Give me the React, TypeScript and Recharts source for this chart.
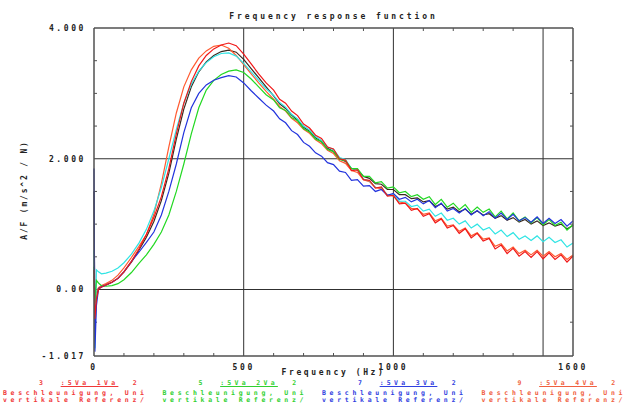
import { LineChart, Line, XAxis, YAxis, ReferenceLine } from 'recharts'

// frequency points (Hz)
const FREQ = [
  0, 3, 8, 15, 25, 40, 60, 80, 100, 125, 150, 175, 200, 225, 250, 275, 300, 325, 350, 375,
  400, 425, 450, 475, 500, 525, 550, 575, 600, 620, 640, 660, 680, 700, 720, 740, 760, 780,
  800, 820, 840, 860, 880, 900, 920, 940, 960, 980, 1000, 1020, 1040, 1060, 1080, 1100, 1120,
  1140, 1160, 1180, 1200, 1220, 1240, 1260, 1280, 1300, 1320, 1340, 1360, 1380, 1400, 1420,
  1440, 1460, 1480, 1500, 1520, 1540, 1560, 1580, 1600,
]

const RED = [
  0.3, -0.45, -0.15, 0.0, 0.04, 0.07, 0.11, 0.17, 0.27, 0.43, 0.62, 0.84, 1.1, 1.42, 1.85, 2.38,
  2.85, 3.18, 3.42, 3.58, 3.68, 3.74, 3.77, 3.73, 3.6, 3.45, 3.3, 3.16,
  3.05, 2.91, 2.85, 2.73, 2.66, 2.53, 2.47, 2.36, 2.31, 2.18, 2.15, 2.0, 1.98, 1.82, 1.83, 1.68,
  1.67, 1.55, 1.57, 1.43, 1.44, 1.31, 1.32, 1.21, 1.24, 1.12, 1.16, 1.02, 1.08, 0.94, 0.98, 0.86,
  0.93, 0.79, 0.86, 0.74, 0.78, 0.62, 0.68, 0.55, 0.63, 0.51, 0.58, 0.49, 0.58, 0.47, 0.56, 0.46,
  0.53, 0.42, 0.51,
]

const ORANGE = [
  0.2, -0.3, -0.05, 0.03, 0.06, 0.09, 0.14, 0.22, 0.33, 0.49, 0.66, 0.84, 1.15, 1.62, 2.18, 2.7,
  3.1, 3.36, 3.54, 3.65, 3.72, 3.74, 3.69, 3.58, 3.44, 3.3, 3.16, 3.03,
  2.91, 2.8, 2.73, 2.62, 2.55, 2.45, 2.39, 2.29, 2.23, 2.13, 2.08, 1.97, 1.93, 1.82, 1.79, 1.68,
  1.65, 1.56, 1.54, 1.45, 1.43, 1.34, 1.32, 1.24, 1.23, 1.15, 1.17, 1.05, 1.09, 0.97, 0.99, 0.89,
  0.94, 0.82, 0.87, 0.77, 0.79, 0.66, 0.7, 0.59, 0.65, 0.55, 0.6, 0.53, 0.6, 0.51, 0.58, 0.5,
  0.55, 0.46, 0.53,
]

const CYAN = [
  0.6, -0.9, 0.3, 0.27, 0.24, 0.25, 0.28, 0.33, 0.41, 0.54, 0.71, 0.92, 1.2, 1.56, 2.0, 2.45,
  2.85, 3.14, 3.34, 3.47, 3.56, 3.61, 3.62, 3.57, 3.46, 3.33, 3.2, 3.07,
  2.97, 2.86, 2.79, 2.68, 2.61, 2.5, 2.44, 2.34, 2.28, 2.18, 2.14, 2.02, 1.99, 1.85, 1.83, 1.69,
  1.66, 1.56, 1.56, 1.44, 1.45, 1.35, 1.35, 1.27, 1.29, 1.2, 1.23, 1.12, 1.17, 1.06, 1.09, 1.0,
  1.05, 0.94, 1.0, 0.91, 0.95, 0.85, 0.91, 0.81, 0.87, 0.77, 0.82, 0.75, 0.82, 0.73, 0.8, 0.72,
  0.76, 0.65, 0.71,
]

const GREEN = [
  0.35, -0.2, 0.14, 0.1, 0.06, 0.05, 0.06, 0.09, 0.15, 0.26, 0.4, 0.53, 0.69, 0.88, 1.14, 1.5,
  1.92, 2.38, 2.78, 3.05, 3.2, 3.29, 3.34, 3.36, 3.32, 3.22, 3.1, 2.98,
  2.9, 2.78, 2.74, 2.63, 2.58, 2.46, 2.41, 2.3, 2.26, 2.14, 2.11, 1.99, 1.97, 1.85, 1.85, 1.73,
  1.73, 1.63, 1.65, 1.55, 1.57, 1.48, 1.5, 1.42, 1.45, 1.38, 1.42, 1.3, 1.38, 1.26, 1.32, 1.22,
  1.3, 1.18, 1.26, 1.18, 1.23, 1.11, 1.2, 1.08, 1.17, 1.05, 1.11, 1.02, 1.1, 0.99, 1.07, 0.98,
  1.03, 0.91, 0.99,
]

const BLUE = [
  1.85, -0.95, -0.25, 0.01, 0.04, 0.07, 0.11, 0.17, 0.27, 0.43, 0.57, 0.72, 0.88, 1.14, 1.5, 1.92,
  2.4, 2.78, 3.0, 3.13, 3.2, 3.24, 3.27, 3.25, 3.16, 3.04, 2.93, 2.82,
  2.73, 2.61, 2.55, 2.43, 2.37, 2.25, 2.19, 2.09, 2.04, 1.94, 1.91, 1.81, 1.79, 1.67, 1.68, 1.58,
  1.59, 1.5, 1.53, 1.44, 1.47, 1.38, 1.41, 1.34, 1.38, 1.31, 1.36, 1.25, 1.32, 1.2, 1.24, 1.17,
  1.24, 1.14, 1.21, 1.13, 1.19, 1.09, 1.17, 1.07, 1.15, 1.05, 1.1, 1.03, 1.11, 1.01, 1.09, 1.01,
  1.07, 0.97, 1.05,
]

const DARK = [
  1.5, -0.6, -0.1, 0.02, 0.04, 0.07, 0.11, 0.17, 0.27, 0.42, 0.6, 0.8, 1.04, 1.36, 1.78, 2.3,
  2.76, 3.1, 3.33, 3.48, 3.58, 3.64, 3.66, 3.63, 3.52, 3.38, 3.24, 3.1,
  2.96, 2.84, 2.77, 2.67, 2.59, 2.48, 2.42, 2.32, 2.26, 2.16, 2.11, 2.0, 1.96, 1.85, 1.83, 1.73,
  1.7, 1.62, 1.61, 1.53, 1.53, 1.45, 1.45, 1.39, 1.4, 1.34, 1.36, 1.27, 1.31, 1.23, 1.26, 1.19,
  1.23, 1.15, 1.2, 1.14, 1.16, 1.09, 1.13, 1.06, 1.1, 1.03, 1.07, 1.0, 1.05, 0.98, 1.02, 0.97,
  1.0, 0.93, 0.98,
]

const X_TICKS = [0, 500, 1000, 1600]
const Y_TICKS = [-1.017, 0, 2, 4]
const X_GRID = [500, 1000, 1500]
const Y_GRID = [0, 2]
const X_MINOR = [100, 200, 300, 400, 600, 700, 800, 900, 1100, 1200, 1300, 1400]
const Y_MINOR = [-0.5, 0.5, 1, 1.5, 2.5, 3, 3.5]

const LEGEND_NUM = ['3', '5', '7', '9']
const LEGEND_MID = [':5Va 1Va', ':5Va 2Va', ':5Va 3Va', ':5Va 4Va']
const LEGEND_COLORS = ['#f03838', '#30d030', '#3040e0', '#f06040']

const X_MIN = 0
const X_MAX = 1600
const Y_MIN = -1.017
const Y_MAX = 4

const rows = FREQ.map((f, i) => ({
  f,
  red: RED[i],
  orange: ORANGE[i],
  cyan: CYAN[i],
  green: GREEN[i],
  blue: BLUE[i],
  dark: DARK[i],
}))

const W = 631
const H = 409
const PLOT_W = 479
const PLOT_H = 328
const TICK_PX = 3
const tx = (TICK_PX * (X_MAX - X_MIN)) / PLOT_W
const ty = (TICK_PX * (Y_MAX - Y_MIN)) / PLOT_H

const mono = '"DejaVu Sans Mono", monospace'
const frame = '#505050'

const yFmt = (v: number) => (v === 4 ? '4.000' : v === 2 ? '2.000' : v === 0 ? '0.00' : v.toFixed(3))

export default function App() {
  return (
    <div
      style={{
        position: 'absolute',
        left: 0,
        top: 0,
        width: W,
        height: H,
        background: '#fff',
        overflow: 'hidden',
        fontFamily: mono,
      }}
    >
      <div
        style={{
          position: 'absolute',
          left: 94,
          width: PLOT_W,
          top: 12,
          textAlign: 'center',
          fontSize: 8,
          fontWeight: 700,
          letterSpacing: 2.9,
          color: '#222',
        }}
      >
        Frequency response function
      </div>

      <LineChart width={W} height={H} data={rows} margin={{ top: 28, right: 58, bottom: 33, left: 0 }}>
        <XAxis
          dataKey="f"
          type="number"
          domain={[X_MIN, X_MAX]}
          ticks={X_TICKS}
          interval={0}
          height={20}
          axisLine={false}
          tickLine={false}
          tick={{ fontSize: 8, fontWeight: 700, fill: '#222', letterSpacing: 2.6, fontFamily: mono }}
        />
        <YAxis
          type="number"
          domain={[Y_MIN, Y_MAX]}
          ticks={Y_TICKS}
          interval={0}
          width={94}
          axisLine={false}
          tickLine={false}
          tickFormatter={yFmt}
          tick={{ fontSize: 8, fontWeight: 700, fill: '#222', letterSpacing: 2.6, fontFamily: mono }}
        />

        {X_GRID.map((x) => (
          <ReferenceLine key={`gx${x}`} x={x} stroke="#303030" strokeWidth={1} />
        ))}
        {Y_GRID.map((y) => (
          <ReferenceLine key={`gy${y}`} y={y} stroke="#303030" strokeWidth={1} />
        ))}

        {X_MINOR.map((x) => (
          <ReferenceLine key={`tt${x}`} segment={[{ x, y: Y_MAX }, { x, y: Y_MAX - ty }]} stroke={frame} />
        ))}
        {X_MINOR.map((x) => (
          <ReferenceLine key={`tb${x}`} segment={[{ x, y: Y_MIN }, { x, y: Y_MIN + ty }]} stroke={frame} />
        ))}
        {Y_MINOR.map((y) => (
          <ReferenceLine key={`tl${y}`} segment={[{ x: X_MIN, y }, { x: X_MIN + tx, y }]} stroke={frame} />
        ))}
        {Y_MINOR.map((y) => (
          <ReferenceLine key={`tr${y}`} segment={[{ x: X_MAX, y }, { x: X_MAX - tx, y }]} stroke={frame} />
        ))}

        <Line dataKey="dark" stroke="#3a2a20" strokeWidth={1.2} dot={false} type="linear" isAnimationActive={false} />
        <Line dataKey="orange" stroke="#ff5a30" strokeWidth={1.2} dot={false} type="linear" isAnimationActive={false} />
        <Line dataKey="cyan" stroke="#30e4e4" strokeWidth={1.2} dot={false} type="linear" isAnimationActive={false} />
        <Line dataKey="green" stroke="#22d822" strokeWidth={1.2} dot={false} type="linear" isAnimationActive={false} />
        <Line dataKey="blue" stroke="#2233dd" strokeWidth={1.2} dot={false} type="linear" isAnimationActive={false} />
        <Line dataKey="red" stroke="#f01818" strokeWidth={1.2} dot={false} type="linear" isAnimationActive={false} />

        <ReferenceLine x={X_MIN} stroke={frame} strokeWidth={1.5} />
        <ReferenceLine x={X_MAX} stroke={frame} strokeWidth={1.5} />
        <ReferenceLine y={Y_MIN} stroke={frame} strokeWidth={1.5} />
        <ReferenceLine y={Y_MAX} stroke={frame} strokeWidth={1.5} />
      </LineChart>

      <div style={{ position: 'absolute', left: 24, top: 190, width: 0, height: 0 }}>
        <div
          style={{
            position: 'absolute',
            left: 0,
            top: 0,
            transform: 'translate(-50%, -50%) rotate(-90deg)',
            whiteSpace: 'nowrap',
            fontSize: 8,
            fontWeight: 700,
            letterSpacing: 1.8,
            color: '#222',
          }}
        >
          A/F (m/s^2 / N)
        </div>
      </div>

      <div
        style={{
          position: 'absolute',
          left: 94,
          width: PLOT_W,
          top: 368,
          textAlign: 'center',
          fontSize: 8,
          lineHeight: '10px',
          fontWeight: 700,
          letterSpacing: 2.6,
          color: '#222',
        }}
      >
        Frequency (Hz)
      </div>

      {LEGEND_NUM.map((n, i) => {
        const col = 3 + i * 159.5
        const c = LEGEND_COLORS[i]
        const txt = { fontSize: 6.5, fontWeight: 700, color: c, whiteSpace: 'pre' as const, lineHeight: '6px' }
        return (
          <div key={n}>
            <div style={{ position: 'absolute', left: col + 36, top: 380, letterSpacing: 3.3, ...txt }}>
              {n + '  '}
              <span style={{ textDecoration: 'underline' }}>{LEGEND_MID[i]}</span>
              {'  2'}
            </div>
            <div style={{ position: 'absolute', left: col, top: 390, letterSpacing: 3.7, ...txt }}>
              Beschleunigung, Uni
            </div>
            <div style={{ position: 'absolute', left: col, top: 397, letterSpacing: 3.7, ...txt }}>
              vertikale Referenz/
            </div>
          </div>
        )
      })}
    </div>
  )
}
